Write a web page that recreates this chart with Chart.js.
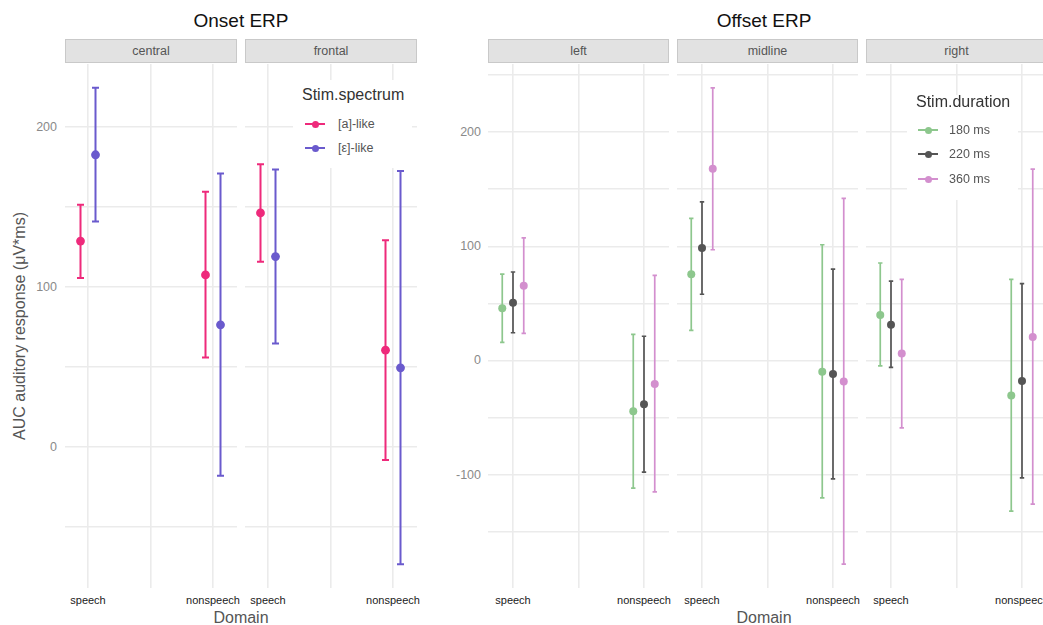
<!DOCTYPE html>
<html>
<head>
<meta charset="utf-8">
<script src="https://cdn.jsdelivr.net/npm/chart.js@4.4.1/dist/chart.umd.min.js"></script>
<style>
  html, body { margin: 0; padding: 0; background: #fff; overflow: hidden; }
  #fig { position: relative; width: 1043px; height: 625px; overflow: hidden;
         font-family: 'Liberation Sans', Arial, Helvetica, sans-serif; background: #fff; }
  .txt { position: absolute; white-space: nowrap; line-height: 1; transform: translate(-50%, -50%); }
  .strip { position: absolute; box-sizing: border-box; background: #E2E2E2; border: 1px solid #C9C9C9;
           display: flex; align-items: center; justify-content: center; font-size: 12.5px; color: #555; }
  .legendBox { position: absolute; background: #fff; }
  canvas { position: absolute; }
</style>
</head>
<body>
<div id="fig"></div>
<script>
// ---- categories and levels ----
const domains = ['speech', 'nonspeech'];
const onsetFacets = ['central', 'frontal'];
const spectrumLevels = ['[a]-like', '[ε]-like'];
const offsetFacets = ['left', 'midline', 'right'];
const durationLevels = ['180 ms', '220 ms', '360 ms'];

// ---- tick labels ----
const onsetTicks = [0, 100, 200];
const offsetTicks = [-100, 0, 100, 200];

// ---- Onset ERP: per facet (central, frontal) x domain (speech, nonspeech) ----
const aLikeMean = [128.7, 107.5, 146.3, 60.4];
const aLikeLow  = [105.6, 55.8, 115.8, -8.3];
const aLikeHigh = [151.4, 159.6, 176.7, 129.2];
const eLikeMean = [182.7, 76.3, 119.0, 49.4];
const eLikeLow  = [141.0, -18.1, 64.6, -73.5];
const eLikeHigh = [224.6, 171.0, 173.5, 172.5];

// ---- Offset ERP: per facet (left, midline, right) x domain (speech, nonspeech) ----
const ms180Mean = [45.7, -44.5, 75.5, -9.8, 39.8, -30.8];
const ms180Low  = [15.9, -111.9, 26.4, -120.4, -4.8, -132.0];
const ms180High = [75.7, 22.9, 124.5, 101.4, 85.4, 71.1];
const ms220Mean = [50.6, -38.4, 98.5, -11.8, 31.4, -18.0];
const ms220Low  = [24.3, -97.9, 58.0, -103.8, -6.0, -102.9];
const ms220High = [77.5, 21.2, 139.0, 80.1, 69.6, 67.3];
const ms360Mean = [65.5, -20.6, 168.0, -18.5, 6.0, 20.6];
const ms360Low  = [23.8, -115.1, 97.0, -178.5, -59.1, -125.9];
const ms360High = [107.5, 74.6, 238.9, 142.0, 71.1, 167.7];

// ---- styling ----
const ONSET_COLORS = ['#EE2A7B', '#6A5ACD'];
const OFFSET_COLORS = ['#8DC78D', '#555555', '#D38FCE'];
const GRID = '#EBEBEB';
const PANEL_TOP = 64, PANEL_H = 524;

const fig = document.getElementById('fig');

function addText(str, x, y, css) {
  const d = document.createElement('div');
  d.className = 'txt';
  d.textContent = str;
  d.style.left = x + 'px';
  d.style.top = y + 'px';
  Object.assign(d.style, css || {});
  fig.appendChild(d);
  return d;
}

// vertical error bars with end caps, drawn under the points
const errorBarPlugin = {
  id: 'errorBars',
  beforeDatasetsDraw(chart, args, opts) {
    const ctx = chart.ctx, xs = chart.scales.x, ys = chart.scales.y;
    chart.data.datasets.forEach((ds) => {
      ctx.save();
      ctx.strokeStyle = ds.barColor;
      ctx.lineWidth = opts.lineWidth;
      ds.data.forEach((p) => {
        const x = xs.getPixelForValue(p.x);
        const y0 = ys.getPixelForValue(p.lo);
        const y1 = ys.getPixelForValue(p.hi);
        ctx.beginPath();
        ctx.moveTo(x, y0); ctx.lineTo(x, y1);
        ctx.moveTo(x - opts.cap, y0); ctx.lineTo(x + opts.cap, y0);
        ctx.moveTo(x - opts.cap, y1); ctx.lineTo(x + opts.cap, y1);
        ctx.stroke();
      });
      ctx.restore();
    });
  }
};

function expandRange(lows, highs) {
  const lo = Math.min(...lows), hi = Math.max(...highs);
  const pad = (hi - lo) * 0.05;
  return [lo - pad, hi + pad];
}

function gridValues(min, max, step) {
  const out = [];
  for (let v = Math.ceil(min / step) * step; v <= max; v += step) out.push(v);
  return out;
}

function buildFacet(f) {
  const cv = document.createElement('canvas');
  cv.width = f.width; cv.height = PANEL_H;
  cv.style.left = f.left + 'px'; cv.style.top = PANEL_TOP + 'px';
  cv.style.width = f.width + 'px'; cv.style.height = PANEL_H + 'px';
  fig.appendChild(cv);

  const n = f.series.length;
  // series are dodged side by side around each domain position
  const datasets = f.series.map((s, si) => ({
    label: s.label,
    data: domains.map((d, di) => ({
      x: di + 1 + (si - (n - 1) / 2) * f.dodge,
      y: s.mean[di], lo: s.low[di], hi: s.high[di]
    })),
    showLine: false,
    pointRadius: f.radius,
    pointHoverRadius: f.radius,
    pointBackgroundColor: s.color,
    pointBorderWidth: 0,
    borderColor: s.color,
    barColor: s.color
  }));

  const yGrid = gridValues(f.yMin, f.yMax, 50);

  return new Chart(cv, {
    type: 'scatter',
    data: { datasets },
    plugins: [errorBarPlugin],
    options: {
      responsive: false,
      animation: false,
      devicePixelRatio: 1,
      layout: { padding: 0, autoPadding: false },
      events: [],
      plugins: {
        legend: { display: false },
        tooltip: { enabled: false },
        errorBars: { lineWidth: f.lineWidth, cap: f.cap }
      },
      scales: {
        x: {
          type: 'linear', min: f.xMin, max: f.xMax,
          afterBuildTicks: (s) => { s.ticks = [1, 1.5, 2].map((v) => ({ value: v })); },
          afterFit: (s) => { s.height = 0; },
          ticks: { display: false },
          grid: { color: GRID, lineWidth: 1.6, drawTicks: false },
          border: { display: false }
        },
        y: {
          type: 'linear', min: f.yMin, max: f.yMax,
          afterBuildTicks: (s) => { s.ticks = yGrid.map((v) => ({ value: v })); },
          afterFit: (s) => { s.width = 0; },
          ticks: { display: false },
          grid: { color: GRID, lineWidth: 1.6, drawTicks: false },
          border: { display: false }
        }
      }
    }
  });
}

function pick(arr, fi) { return [arr[fi * 2], arr[fi * 2 + 1]]; }

// ---------- Onset ERP ----------
const onsetRange = expandRange([...aLikeLow, ...eLikeLow], [...aLikeHigh, ...eLikeHigh]);
const onsetLefts = [65, 245], ONSET_W = 172;
const onsetCharts = onsetFacets.map((name, fi) => buildFacet({
  left: onsetLefts[fi], width: ONSET_W,
  xMin: 0.816, xMax: 0.816 + ONSET_W / 125,
  yMin: onsetRange[0], yMax: onsetRange[1],
  dodge: 0.12, radius: 4.4, lineWidth: 2, cap: 3.5,
  series: [
    { label: spectrumLevels[0], color: ONSET_COLORS[0], mean: pick(aLikeMean, fi), low: pick(aLikeLow, fi), high: pick(aLikeHigh, fi) },
    { label: spectrumLevels[1], color: ONSET_COLORS[1], mean: pick(eLikeMean, fi), low: pick(eLikeLow, fi), high: pick(eLikeHigh, fi) }
  ]
}));

// ---------- Offset ERP ----------
const offsetRange = expandRange([...ms180Low, ...ms220Low, ...ms360Low], [...ms180High, ...ms220High, ...ms360High]);
const offsetLefts = [488, 677, 866], OFFSET_W = 181;
const offsetCharts = offsetFacets.map((name, fi) => buildFacet({
  left: offsetLefts[fi], width: OFFSET_W,
  xMin: 1 - 25 / 131, xMax: 1 - 25 / 131 + OFFSET_W / 131,
  yMin: offsetRange[0], yMax: offsetRange[1],
  dodge: 0.082, radius: 4, lineWidth: 1.7, cap: 2.2,
  series: [
    { label: durationLevels[0], color: OFFSET_COLORS[0], mean: pick(ms180Mean, fi), low: pick(ms180Low, fi), high: pick(ms180High, fi) },
    { label: durationLevels[1], color: OFFSET_COLORS[1], mean: pick(ms220Mean, fi), low: pick(ms220Low, fi), high: pick(ms220High, fi) },
    { label: durationLevels[2], color: OFFSET_COLORS[2], mean: pick(ms360Mean, fi), low: pick(ms360Low, fi), high: pick(ms360High, fi) }
  ]
}));

// ---------- strips, axis text ----------
function addStrips(names, lefts, width) {
  names.forEach((name, i) => {
    const s = document.createElement('div');
    s.className = 'strip';
    s.style.left = lefts[i] + 'px';
    s.style.top = '39px';
    s.style.width = width + 'px';
    s.style.height = '24px';
    s.textContent = name;
    fig.appendChild(s);
  });
}
addStrips(onsetFacets, onsetLefts, ONSET_W);
addStrips(offsetFacets, offsetLefts, OFFSET_W);

function addAxisText(charts, lefts, ticks, labelRight) {
  const ys = charts[0].scales.y;
  ticks.forEach((v) => {
    const d = addText(String(v), labelRight, PANEL_TOP + ys.getPixelForValue(v), { fontSize: '12.5px', color: '#8A8A8A' });
    d.style.transform = 'translate(-100%, -50%)';
  });
  charts.forEach((ch, i) => {
    domains.forEach((dom, di) => {
      addText(dom, lefts[i] + ch.scales.x.getPixelForValue(di + 1), 600, { fontSize: '11px', color: '#1A1A1A' });
    });
  });
}
addAxisText(onsetCharts, onsetLefts, onsetTicks, 57);
addAxisText(offsetCharts, offsetLefts, offsetTicks, 481);

addText('Onset ERP', 241, 20, { fontSize: '19px', color: '#111' });
addText('Offset ERP', 764, 20, { fontSize: '19px', color: '#111' });
addText('Domain', 241, 618, { fontSize: '16px', color: '#555' });
addText('Domain', 764, 618, { fontSize: '16px', color: '#555' });
const yTitle = addText('AUC auditory response (μV*ms)', 20, 326, { fontSize: '16px', color: '#555' });
yTitle.style.transform = 'translate(-50%, -50%) rotate(-90deg)';

// ---------- legends ----------
function addLegend(box, title, titlePos, levels, colors, keyX, keyYs, labelX) {
  const b = document.createElement('div');
  b.className = 'legendBox';
  Object.assign(b.style, { left: box[0] + 'px', top: box[1] + 'px', width: (box[2] - box[0]) + 'px', height: (box[3] - box[1]) + 'px' });
  fig.appendChild(b);
  const t = addText(title, titlePos[0], titlePos[1], { fontSize: '16px', color: '#333' });
  t.style.transform = 'translate(0, -50%)';
  levels.forEach((lv, i) => {
    const y = keyYs[i];
    const line = document.createElement('div');
    Object.assign(line.style, { position: 'absolute', left: keyX + 'px', top: (y - 1) + 'px', width: '20px', height: '2px', background: colors[i] });
    fig.appendChild(line);
    const dot = document.createElement('div');
    Object.assign(dot.style, { position: 'absolute', left: (keyX + 10 - 3.5) + 'px', top: (y - 3.5) + 'px', width: '7px', height: '7px', borderRadius: '50%', background: colors[i] });
    fig.appendChild(dot);
    const l = addText(lv, labelX, y, { fontSize: '12.5px', color: '#555' });
    l.style.transform = 'translate(0, -50%)';
  });
}
addLegend([293, 80, 412, 168], 'Stim.spectrum', [302, 95], spectrumLevels, ONSET_COLORS, 305, [124, 148], 338);
addLegend([907, 95, 1018, 200], 'Stim.duration', [916, 102], durationLevels, OFFSET_COLORS, 918, [130, 154, 179], 949);
</script>
</body>
</html>
